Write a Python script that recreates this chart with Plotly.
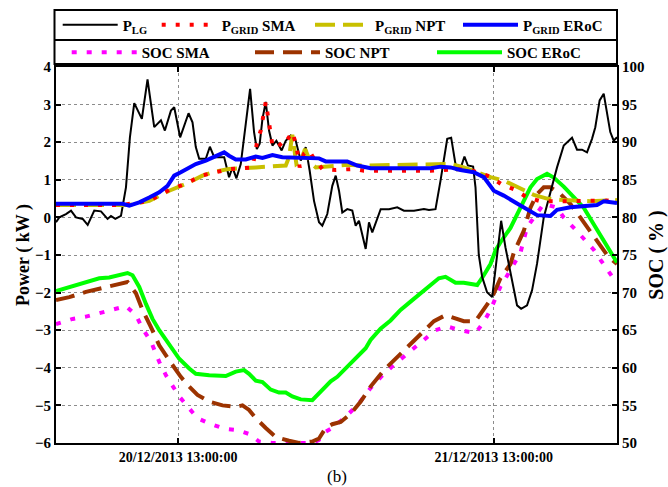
import pandas as pd
import plotly.graph_objects as go

# Time stamps are hours counted from 20/12/2013 00:00
START = pd.Timestamp("2013-12-20 00:00:00")

# Load power P_LG (kW)
P_LG = [
    (3.71, -0.13), (3.96, 0.00), (4.47, 0.09), (4.85, 0.18), (5.23, 0.00), (5.74, -0.04),
    (6.12, -0.20), (6.62, 0.18), (7.13, 0.16), (7.63, -0.04), (7.89, 0.04), (8.22, -0.04),
    (8.65, 0.04), (9.03, 0.80), (9.33, 2.13), (9.66, 3.04), (10.24, 2.62), (10.67, 3.67),
    (11.18, 2.40), (11.69, 2.58), (11.99, 2.31), (12.45, 2.84), (12.70, 2.93), (13.15, 2.13),
    (13.79, 2.77), (14.09, 2.53), (14.34, 1.87), (14.60, 1.56), (15.10, 1.56), (15.41, 1.88),
    (15.74, 1.60), (16.50, 1.60), (16.87, 1.07), (17.13, 1.33), (17.43, 1.04), (17.76, 1.42),
    (18.14, 2.49), (18.47, 3.42), (18.77, 2.27), (18.98, 1.82), (19.20, 1.96), (19.41, 2.62),
    (19.66, 3.07), (19.91, 2.31), (20.17, 1.91), (20.47, 2.04), (20.87, 1.78), (21.18, 2.04),
    (21.56, 2.18), (21.94, 2.04), (22.32, 1.51), (22.70, 1.87), (23.00, 1.24), (23.33, 0.44),
    (23.71, -0.13), (23.96, -0.22), (24.34, 0.09), (24.72, 0.84), (24.98, 1.11), (25.23, 0.71),
    (25.48, 0.13), (25.86, 0.22), (26.24, 0.18), (26.50, -0.22), (26.75, -0.09), (27.26, -0.84),
    (27.51, -0.13), (27.76, -0.40), (28.40, 0.22), (29.03, 0.22), (29.66, 0.27), (30.17, 0.18),
    (30.93, 0.18), (31.69, 0.22), (32.07, 0.20), (32.57, 0.22), (32.95, 0.98), (33.46, 2.09),
    (33.76, 2.12), (34.17, 1.24), (34.52, 1.35), (34.77, 1.62), (35.03, 1.38), (35.43, 1.35),
    (35.61, 0.80), (35.86, -1.00), (36.12, -1.59), (36.49, -1.99), (36.88, -2.12), (37.13, -1.32),
    (37.56, -0.09), (37.89, -0.80), (38.40, -1.72), (38.77, -2.34), (39.08, -2.43), (39.53, -2.34),
    (39.91, -1.94), (40.29, -1.23), (40.80, 0.00), (41.31, 0.71), (41.81, 1.33), (42.32, 1.91),
    (42.57, 2.00), (42.95, 2.12), (43.33, 1.80), (43.71, 1.80), (44.09, 1.73), (44.47, 2.09),
    (44.72, 2.40), (45.05, 3.11), (45.36, 3.29), (45.61, 2.76), (45.86, 2.27), (46.12, 2.04),
    (46.37, 2.13),
]

# Grid power, SMA strategy (kW)
P_GRID_SMA = [
    (3.71, 0.33), (8.77, 0.33), (10.80, 0.44), (12.32, 0.73), (13.58, 0.90), (14.85, 1.12),
    (16.87, 1.28), (18.65, 1.33), (18.98, 1.96), (19.28, 2.31), (19.46, 2.67), (19.66, 3.07),
    (19.86, 2.62), (19.99, 2.27), (20.17, 1.91), (20.55, 2.00), (20.92, 1.88), (21.18, 2.00),
    (21.68, 2.27), (21.99, 1.91), (22.24, 1.33), (22.57, 1.69), (22.95, 1.78), (23.33, 1.56),
    (23.96, 1.29), (24.98, 1.26), (26.37, 1.29), (27.13, 1.24), (32.19, 1.24), (34.22, 1.28),
    (35.23, 1.26), (35.99, 1.17), (36.75, 1.08), (37.63, 0.87), (38.65, 0.73), (39.53, 0.53),
    (40.55, 0.43), (42.32, 0.43), (46.37, 0.45),
]

# Grid power, NPT strategy (kW)
P_GRID_NPT = [
    (3.71, 0.33), (9.28, 0.33), (10.80, 0.44), (12.32, 0.71), (13.58, 0.89), (14.85, 1.11),
    (15.61, 1.20), (16.87, 1.29), (18.90, 1.33), (21.18, 1.38), (21.43, 1.60), (21.68, 2.20),
    (21.99, 1.42), (22.32, 1.50), (22.65, 1.82), (23.08, 1.45), (23.46, 1.33), (24.98, 1.36),
    (25.86, 1.40), (27.13, 1.38), (29.66, 1.40), (32.19, 1.40), (33.71, 1.42), (34.72, 1.33),
    (35.99, 1.16), (36.75, 1.07), (37.76, 0.98), (38.77, 0.80), (40.04, 0.60), (41.05, 0.50),
    (42.32, 0.46), (44.34, 0.43), (46.37, 0.46),
]

# Grid power, ERoC strategy (kW)
P_GRID_EROC = [
    (3.71, 0.36), (8.77, 0.36), (9.28, 0.31), (10.04, 0.40), (10.80, 0.53), (11.56, 0.67),
    (12.19, 0.84), (12.70, 1.11), (13.20, 1.20), (13.71, 1.29), (14.34, 1.42), (15.10, 1.51),
    (15.86, 1.64), (16.50, 1.73), (16.87, 1.64), (17.38, 1.54), (18.14, 1.54), (18.90, 1.62),
    (19.41, 1.58), (20.17, 1.66), (20.92, 1.60), (22.45, 1.58), (23.71, 1.57), (24.22, 1.49),
    (24.98, 1.48), (25.86, 1.49), (26.62, 1.38), (27.64, 1.31), (32.19, 1.31), (32.95, 1.35),
    (33.71, 1.33), (34.47, 1.26), (35.48, 1.20), (36.24, 1.07), (37.00, 0.71), (37.76, 0.58),
    (38.77, 0.37), (39.79, 0.18), (40.29, 0.06), (41.31, 0.04), (41.81, 0.20), (42.82, 0.27),
    (44.85, 0.33), (45.36, 0.43), (45.86, 0.40), (46.37, 0.38),
]

# Battery state of charge, SMA strategy (%)
SOC_SMA = [
    (3.71, 65.8), (4.98, 66.5), (5.99, 66.8), (7.00, 67.3), (8.01, 67.7), (9.03, 68.2),
    (9.79, 67.0), (10.29, 65.2), (10.93, 63.5), (11.56, 60.8), (12.07, 59.0), (12.57, 57.5),
    (13.08, 56.2), (13.84, 54.6), (14.47, 53.3), (15.36, 52.6), (16.50, 51.9), (17.51, 51.7),
    (18.39, 51.2), (19.15, 50.2), (20.17, 50.0), (23.20, 50.0), (23.71, 50.4), (24.22, 51.5),
    (24.72, 52.0), (25.61, 53.3), (26.62, 55.0), (27.63, 57.3), (28.65, 59.2), (29.41, 60.4),
    (30.17, 61.5), (30.93, 62.6), (31.81, 63.8), (32.57, 65.0), (33.46, 65.5), (34.47, 65.0),
    (35.61, 64.6), (36.24, 66.1), (36.75, 67.7), (37.51, 70.8), (38.27, 73.0), (39.03, 75.3),
    (39.53, 78.7), (40.04, 80.0), (40.80, 81.8), (41.81, 81.3), (42.32, 80.0), (43.20, 78.4),
    (43.84, 77.1), (44.60, 75.7), (45.10, 74.4), (45.70, 72.8), (46.37, 71.2),
]

# Battery state of charge, NPT strategy (%)
SOC_NPT = [
    (3.71, 69.0), (4.72, 69.4), (5.99, 70.1), (7.00, 70.5), (8.14, 71.0), (9.15, 71.4),
    (9.79, 69.9), (10.29, 67.7), (10.93, 65.4), (11.56, 63.0), (12.32, 61.0), (13.20, 58.8),
    (13.84, 57.5), (14.47, 56.4), (15.36, 55.5), (16.37, 55.0), (17.38, 54.8), (17.89, 55.0),
    (18.39, 54.4), (18.90, 53.3), (19.66, 52.0), (20.42, 50.8), (21.43, 50.3), (22.19, 50.0),
    (23.20, 50.2), (23.71, 50.6), (24.22, 52.0), (24.72, 52.5), (25.36, 52.8), (26.12, 53.9),
    (26.88, 55.5), (27.63, 57.5), (28.65, 59.7), (29.41, 61.0), (30.17, 62.3), (30.93, 63.7),
    (31.69, 65.0), (32.45, 66.2), (33.33, 67.0), (34.09, 66.5), (34.72, 66.2), (35.61, 66.2),
    (36.24, 67.7), (36.88, 69.4), (37.51, 71.9), (38.27, 73.8), (38.52, 75.3), (39.28, 78.2),
    (39.79, 81.3), (40.29, 83.1), (40.80, 84.0), (41.31, 84.0), (42.07, 83.1), (42.82, 81.8),
    (43.58, 80.0), (44.34, 78.2), (45.10, 76.2), (45.74, 74.7), (46.37, 73.8),
]

# Battery state of charge, ERoC strategy (%)
SOC_EROC = [
    (3.71, 70.2), (4.72, 70.75), (5.74, 71.3), (7.00, 71.9), (7.76, 72.0), (8.52, 72.4),
    (9.15, 72.6), (9.53, 72.3), (10.04, 70.75), (10.55, 68.5), (11.05, 66.5), (11.56, 65.0),
    (12.32, 63.0), (13.08, 61.2), (13.84, 59.9), (14.34, 59.2), (15.36, 59.0), (16.62, 58.9),
    (17.38, 59.5), (18.01, 59.7), (18.39, 59.2), (18.90, 58.3), (19.41, 58.1), (20.04, 57.1),
    (20.67, 56.7), (21.18, 56.7), (21.68, 56.2), (22.32, 55.8), (23.20, 55.7), (23.71, 56.6),
    (24.22, 57.6), (24.60, 58.2), (25.10, 58.8), (25.86, 60.1), (26.62, 61.5), (27.26, 62.6),
    (27.63, 63.7), (28.39, 65.2), (29.15, 66.3), (29.91, 67.7), (30.67, 68.8), (31.43, 69.9),
    (32.19, 71.0), (32.82, 71.9), (33.33, 72.1), (34.09, 71.3), (34.72, 71.3), (35.74, 71.0),
    (36.24, 72.3), (36.75, 73.8), (37.13, 75.6), (37.51, 76.7), (38.27, 78.6), (38.77, 80.3),
    (39.28, 82.2), (39.79, 84.0), (40.29, 85.1), (41.05, 85.8), (41.56, 85.3), (42.32, 84.1),
    (43.08, 82.7), (43.84, 81.3), (44.60, 79.1), (45.36, 76.9), (45.86, 75.6), (46.37, 74.0),
]

X_START, X_END = 3.71, 46.37
TICK_HOURS = [13, 37]

SERIF = "Liberation Serif"


def to_time(hours):
    return [START + pd.Timedelta(hours=h) for h in hours]


def split(pairs):
    hours, values = zip(*pairs)
    return to_time(hours), list(values)


fig = go.Figure()

# SOC curves on the base (right-hand) axis
soc_series = [
    ("SOC SMA", SOC_SMA, "#ff00ff", "5px,10px", "legend5"),
    ("SOC NPT", SOC_NPT, "#9c3300", "19px,9px", "legend6"),
    ("SOC ERoC", SOC_EROC, "#00ff00", "solid", "legend7"),
]
for name, pairs, color, dash, leg in soc_series:
    t, v = split(pairs)
    fig.add_trace(go.Scatter(
        x=t, y=v, name=name, mode="lines", yaxis="y", legend=leg,
        line=dict(color=color, width=4, dash=dash),
    ))

# Power curves on the overlaid (left-hand) axis, drawn above the SOC curves
power_series = [
    ("P<sub>LG</sub>", P_LG, "#000000", 2, "solid", "legend"),
    ("P<sub>GRID</sub> NPT", P_GRID_NPT, "#c8c000", 4, "20px,8px", "legend3"),
    ("P<sub>GRID</sub> SMA", P_GRID_SMA, "#ff0000", 4, "4px,10px", "legend2"),
    ("P<sub>GRID</sub> ERoC", P_GRID_EROC, "#0000ff", 4, "solid", "legend4"),
]
for name, pairs, color, width, dash, leg in power_series:
    t, v = split(pairs)
    fig.add_trace(go.Scatter(
        x=t, y=v, name=name, mode="lines", yaxis="y2", legend=leg,
        line=dict(color=color, width=width, dash=dash),
    ))

L, R, T, B = 56, 51, 67, 44
W, H = 668, 487
PW, PH = W - L - R, H - T - B


def px_x(px):
    return (px - L) / PW


def px_y(py):
    return (H - B - py) / PH


legend_font = dict(family=SERIF, size=15, color="black", weight="bold")


def legend_box(x_px, y_px, itemwidth):
    return dict(
        x=px_x(x_px), y=px_y(y_px), xanchor="left", yanchor="middle",
        bgcolor="rgba(0,0,0,0)", borderwidth=0, font=legend_font,
        itemwidth=itemwidth, orientation="h", itemclick=False, itemdoubleclick=False,
    )


axis_line = dict(showline=True, linecolor="black", linewidth=2)
grid = dict(showgrid=True, gridcolor="#8c8c8c", gridwidth=1, griddash="dot")
tick_font = dict(family=SERIF, size=15, color="black", weight="bold")

fig.update_layout(
    width=W, height=H,
    margin=dict(l=L, r=R, t=T, b=B, autoexpand=False),
    paper_bgcolor="white", plot_bgcolor="white",
    font=dict(family=SERIF, color="black"),
    showlegend=True,
    xaxis=dict(
        type="date", range=to_time([X_START, X_END]),
        tickvals=to_time(TICK_HOURS), tickformat="%d/%m/%Y %H:%M:%S",
        ticks="inside", ticklen=5, tickwidth=1.5, tickcolor="black",
        mirror="ticks", zeroline=False,
        tickfont=dict(family=SERIF, size=14, color="black", weight="bold"),
        **axis_line, **grid,
    ),
    yaxis=dict(
        side="right", range=[50, 100], dtick=5,
        ticks="inside", ticklen=5, tickwidth=1.5, tickcolor="black",
        zeroline=False, tickfont=tick_font,
        title=dict(text="SOC ( % )", standoff=8,
                   font=dict(family=SERIF, size=20, color="black", weight="bold")),
        **axis_line, **grid,
    ),
    yaxis2=dict(
        overlaying="y", side="left", range=[-6, 4], dtick=1,
        ticks="inside", ticklen=5, tickwidth=1.5, tickcolor="black",
        zeroline=False, showgrid=False, tickfont=tick_font,
        title=dict(text="Power ( kW )", standoff=1,
                   font=dict(family=SERIF, size=18, color="black", weight="bold")),
        **axis_line,
    ),
    legend=legend_box(57.7, 25, 55),
    legend2=legend_box(156.7, 25, 55),
    legend3=legend_box(310, 25, 55),
    legend4=legend_box(458, 25, 55),
    legend5=legend_box(66.7, 52.5, 65),
    legend6=legend_box(250, 52.5, 65),
    legend7=legend_box(432, 52.5, 65),
    shapes=[
        dict(type="rect", xref="paper", yref="paper",
             x0=px_x(54.5), x1=1, y0=px_y(64), y1=px_y(10),
             line=dict(color="black", width=2), fillcolor="rgba(0,0,0,0)"),
        dict(type="line", xref="paper", yref="paper",
             x0=px_x(54.5), x1=1, y0=px_y(40), y1=px_y(40),
             line=dict(color="black", width=2)),
    ],
    annotations=[
        dict(text="(b)", x=0.5, y=px_y(476), xref="paper", yref="paper",
             xanchor="center", yanchor="middle", showarrow=False,
             font=dict(family=SERIF, size=17, color="black")),
    ],
)

fig.write_html("out.html")
